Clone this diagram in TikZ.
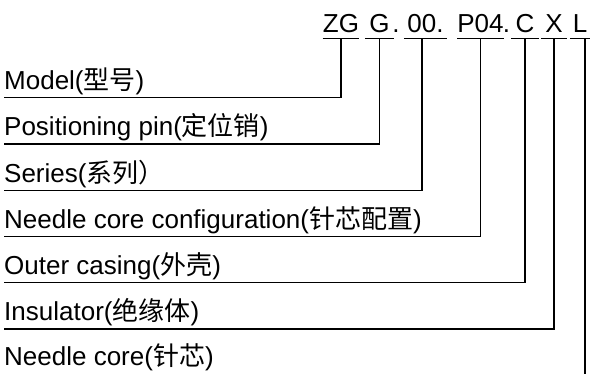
\documentclass[tikz,border=0pt]{standalone}
\usepackage{fontspec}
\setmainfont{Liberation Sans}
\newfontfamily\cjk{Noto Sans CJK SC}
\usetikzlibrary{positioning}

\begin{document}
\begin{tikzpicture}[x=1pt,y=-1pt,
    codepart/.style={anchor=base, inner xsep=0pt, inner ysep=5.5pt, text depth=0pt, font=\fontsize{26pt}{30pt}\selectfont},
    item/.style={anchor=south west, inner xsep=0pt, inner ysep=8pt, text depth=0pt, font=\fontsize{26pt}{30pt}\selectfont},
    lead/.style={line width=1.4pt}]
    \useasboundingbox (0,0) rectangle (595,374);

    %% code parts
    \node[codepart, minimum width=36pt] (zg) at (341,33) {ZG};
    \node[codepart, minimum width=29pt] (g) at (379.5,33) {G};
    \node[codepart, inner sep=0pt] (dot1) at (396,33) {.};
    \node[codepart, minimum width=43pt] (oo) at (425.5,33) {00.};
    \node[codepart, minimum width=43pt] (p04) at (480.5,33) {P04};
    \node[codepart, inner sep=0pt] (dot2) at (506.5,33) {.};
    \node[codepart, minimum width=28pt] (c) at (525,33) {C};
    \node[codepart, minimum width=26pt] (x) at (554,33) {X};
    \node[codepart, minimum width=20pt] (l) at (580,33) {L};

    \foreach \n in {zg,g,oo,p04,c,x,l}
        \draw[lead] (\n.south west) -- (\n.south east);

    %% meanings
    \node[item] (model) at (4,97.7) {Model({\cjk 型号})};
    \node[item] (pin) at (4,144) {Positioning pin({\cjk 定位销})};
    \node[item] (series) at (4,190.5) {Series({\cjk 系列）}};
    \node[item] (config) at (4,236.7) {Needle core configuration({\cjk 针芯配置})};
    \node[item] (casing) at (4,282.7) {Outer casing({\cjk 外壳})};
    \node[item] (insul) at (4,329) {Insulator({\cjk 绝缘体})};
    \node[item] (core) at (4,374) {Needle core({\cjk 针芯})};

    %% leaders
    \draw[lead] (zg.south) |- (model.south west);
    \draw[lead] (g.south) |- (pin.south west);
    \draw[lead] ([xshift=-3.5pt]oo.south) |- (series.south west);
    \draw[lead] (p04.south) |- (config.south west);
    \draw[lead] (c.south) |- (casing.south west);
    \draw[lead] (x.south) |- (insul.south west);
    \draw[lead] ([xshift=5pt]l.south) -- ([xshift=5pt]l.south |- core.south);
\end{tikzpicture}
\end{document}
